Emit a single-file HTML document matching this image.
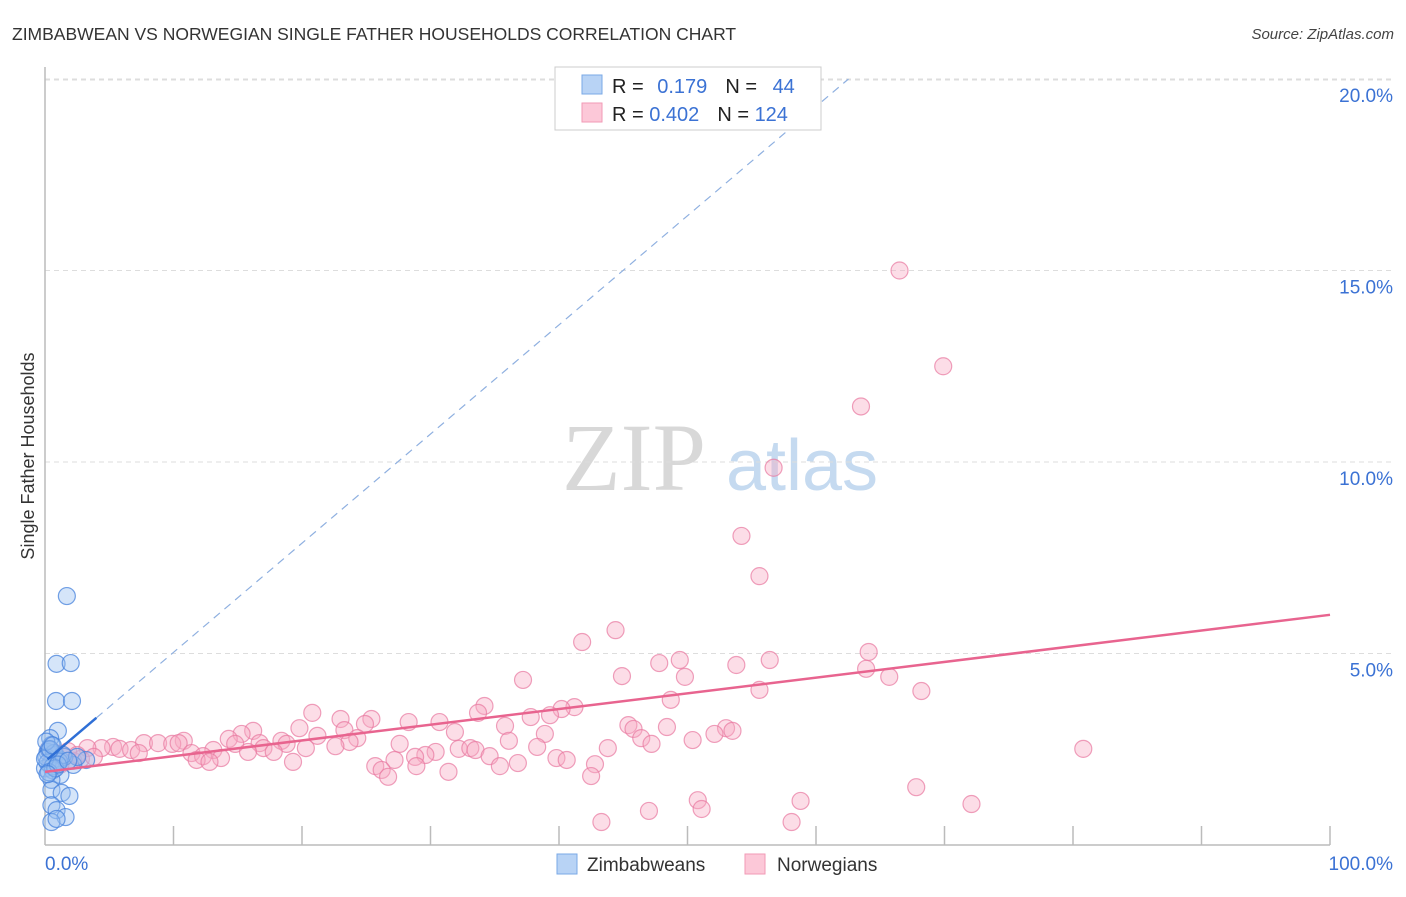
<!DOCTYPE html>
<html><head><meta charset="utf-8"><style>
body{margin:0;background:#fff;font-family:"Liberation Sans",sans-serif}
svg text{font-family:"Liberation Sans",sans-serif}
</style></head><body>
<svg id="chart" width="1406" height="892" viewBox="0 0 1406 892">
<text x="12" y="40" font-size="17.5" fill="#333">ZIMBABWEAN VS NORWEGIAN SINGLE FATHER HOUSEHOLDS CORRELATION CHART</text>
<text x="1394" y="39" font-size="15" fill="#444" text-anchor="end" font-style="italic">Source: ZipAtlas.com</text>
<g>
<text x="634" y="490" font-size="96" fill="#d8d8d8" text-anchor="middle" style="font-family:'Liberation Serif',serif">ZIP</text>
<text x="802" y="490" font-size="72" fill="#c5daf0" text-anchor="middle">atlas</text>
</g>
<g id="grid"></g>
<g id="axes"></g>
<g id="marks"></g>
<text transform="translate(34,456) rotate(-90)" font-size="18" fill="#333" text-anchor="middle">Single Father Households</text>
<g>
<rect x="555" y="67" width="266" height="63" fill="#fff" stroke="#ccc"/>
<rect x="582" y="75" width="20" height="19" fill="#b8d3f5" stroke="#7aa8e6"/>
<rect x="582" y="103" width="20" height="19" fill="#fcc8d8" stroke="#f29ab6"/>
<text x="612" y="93" font-size="20" fill="#222">R = <tspan fill="#3b72d4" dx="8">0.179</tspan><tspan dx="18">N = </tspan><tspan fill="#3b72d4" dx="10">44</tspan></text>
<text x="612" y="121" font-size="20" fill="#222">R = <tspan fill="#3b72d4">0.402</tspan><tspan dx="18">N = </tspan><tspan fill="#3b72d4">124</tspan></text>
</g>
<g>
<rect x="557" y="854" width="20" height="20" fill="#b8d3f5" stroke="#7aa8e6"/>
<text x="587" y="871" font-size="19" fill="#333">Zimbabweans</text>
<rect x="745" y="854" width="20" height="20" fill="#fcc8d8" stroke="#f29ab6"/>
<text x="777" y="871" font-size="19" fill="#333">Norwegians</text>
</g>
</svg>
<script>
const yTicks=[5,10,15,20];
const yTickLabels=["5.0%","10.0%","15.0%","20.0%"];
const xTickLabels=["0.0%","100.0%"];
const zimX=[1.7,0.9,2.0,0.86,2.1,1.0,0.4,0.5,0.2,0.8,1.2,0.4,0.0,0.6,0.1,3.2,2.2,1.2,0.5,0.5,1.3,1.9,0.5,0.9,1.6,0.5,0.9,0.3,0.7,1.5,0.2,0.6,1.1,0.0,0.3,1.4,0.8,0.1,2.5,0.4,1.0,0.2,0.6,1.8];
const zimY=[6.5,4.73,4.75,3.76,3.76,2.98,2.79,2.61,2.43,2.35,2.22,2.1,2.0,1.95,2.3,2.22,2.09,1.83,1.7,1.44,1.36,1.28,1.04,0.91,0.73,0.6,0.68,2.5,2.4,2.3,2.15,2.05,2.18,2.25,1.9,2.35,2.0,2.7,2.3,2.5,2.1,1.85,2.6,2.2];
const norX=[66.5,69.9,63.5,56.7,54.2,55.6,44.4,41.8,64.1,49.4,47.8,53.8,56.4,63.9,44.9,49.8,65.7,37.2,55.6,68.2,48.7,34.2,41.2,40.2,39.3,20.8,25.4,23.0,37.8,33.7,45.4,28.3,30.7,24.9,35.8,19.8,45.8,48.4,53.0,53.5,16.2,15.3,23.3,31.9,38.9,52.1,46.4,21.2,24.3,14.3,23.7,18.4,36.1,50.4,47.2,14.8,16.7,18.8,10.8,7.7,8.8,9.9,10.4,5.3,4.4,5.8,6.7,7.3,3.3,27.6,22.6,20.3,17.0,13.1,15.8,17.8,32.2,33.1,33.5,80.8,43.8,38.3,30.4,29.6,28.8,11.4,12.3,11.8,13.7,12.8,34.6,39.8,40.6,27.2,28.9,19.3,36.8,35.4,42.8,25.7,26.2,31.4,26.7,42.5,67.8,50.8,58.8,51.1,72.1,47.0,43.3,58.1,0.8,1.5,2.2,2.8,1.8,0.5,1.2,2.5,3.8,0.3];
const norY=[15.0,12.5,11.45,9.85,8.07,7.02,5.61,5.3,5.04,4.83,4.75,4.7,4.83,4.6,4.41,4.39,4.39,4.31,4.05,4.02,3.79,3.63,3.6,3.55,3.39,3.45,3.29,3.29,3.34,3.45,3.13,3.21,3.21,3.16,3.11,3.05,3.03,3.08,3.05,2.98,2.98,2.9,3.0,2.95,2.9,2.9,2.79,2.85,2.79,2.77,2.69,2.72,2.72,2.74,2.64,2.64,2.66,2.64,2.72,2.66,2.66,2.64,2.66,2.56,2.53,2.51,2.48,2.4,2.53,2.64,2.58,2.53,2.53,2.48,2.43,2.43,2.51,2.53,2.48,2.51,2.53,2.56,2.43,2.35,2.3,2.4,2.32,2.22,2.27,2.17,2.32,2.27,2.22,2.22,2.06,2.17,2.14,2.06,2.11,2.06,1.96,1.91,1.78,1.8,1.51,1.17,1.15,0.94,1.07,0.89,0.6,0.6,2.4,2.3,2.2,2.25,2.45,2.2,2.1,2.35,2.3,2.5];
const zimFit=[2.18,0.285];
const norFit=[1.91,0.041];
const X0=45,X1=1330,Y0=845,PY=38.3;
const sx=v=>X0+(X1-X0)*v/100, sy=v=>Y0-v*PY;
const NS="http://www.w3.org/2000/svg";
function mk(parent,tag,attrs){const e=document.createElementNS(NS,tag);for(const k in attrs)e.setAttribute(k,attrs[k]);document.getElementById(parent).appendChild(e);return e;}
yTicks.forEach((t,i)=>{
 const g=mk('grid','line',{x1:X0,x2:1394,y1:sy(t),y2:sy(t),stroke:'#ddd','stroke-dasharray':'5,4'});
 
 
 const l=mk('axes','text',{x:1393,y:sy(t)+23,'font-size':19,fill:'#3b72d4','text-anchor':'end'});
 l.textContent=yTickLabels[i];
 
 
});
const topGrid=mk('grid','line',{x1:X0,x2:1394,y1:80,y2:80,stroke:'#ddd','stroke-dasharray':'5,4'});


const ya=mk('axes','line',{x1:X0,x2:X0,y1:67,y2:Y0,stroke:'#bbb','stroke-width':1.5});


const xa=mk('axes','line',{x1:X0,x2:X1,y1:Y0,y2:Y0,stroke:'#bbb','stroke-width':1.5});


for(let i=1;i<=10;i++){const t=mk('axes','line',{x1:sx(i*10),x2:sx(i*10),y1:826,y2:Y0,stroke:'#bbb','stroke-width':1.5});
 
 }
[[0,'start',X0],[1,'end',1393]].forEach(([i,a,x])=>{const l=mk('axes','text',{x:x,y:870,'font-size':19,fill:'#3b72d4','text-anchor':a});l.textContent=xTickLabels[i];
 
 });
norX.forEach((v,i)=>{const c=mk('marks','circle',{cx:sx(v),cy:sy(norY[i]),r:8.5,fill:'rgba(248,170,196,0.4)',stroke:'rgba(232,120,160,0.7)','stroke-width':1.2});
 
 });
zimX.forEach((v,i)=>{const c=mk('marks','circle',{cx:sx(v),cy:sy(zimY[i]),r:8.5,fill:'rgba(150,190,240,0.4)',stroke:'rgba(70,130,220,0.75)','stroke-width':1.2});
 
 });
const nl=mk('marks','line',{x1:sx(0),y1:sy(norFit[0]),x2:sx(100),y2:sy(norFit[0]+norFit[1]*100),stroke:'#e8648f','stroke-width':2.5});


const xe=(20-zimFit[0])/zimFit[1];
const zd=mk('marks','line',{x1:sx(4),y1:sy(zimFit[0]+zimFit[1]*4),x2:sx(xe),y2:sy(20),stroke:'#8fb0e0','stroke-width':1.2,'stroke-dasharray':'8,6'});


const zl=mk('marks','line',{x1:sx(0.2),y1:sy(zimFit[0]+zimFit[1]*0.2),x2:sx(4),y2:sy(zimFit[0]+zimFit[1]*4),stroke:'#2f6fd6','stroke-width':2.5});


</script>
</body></html>
